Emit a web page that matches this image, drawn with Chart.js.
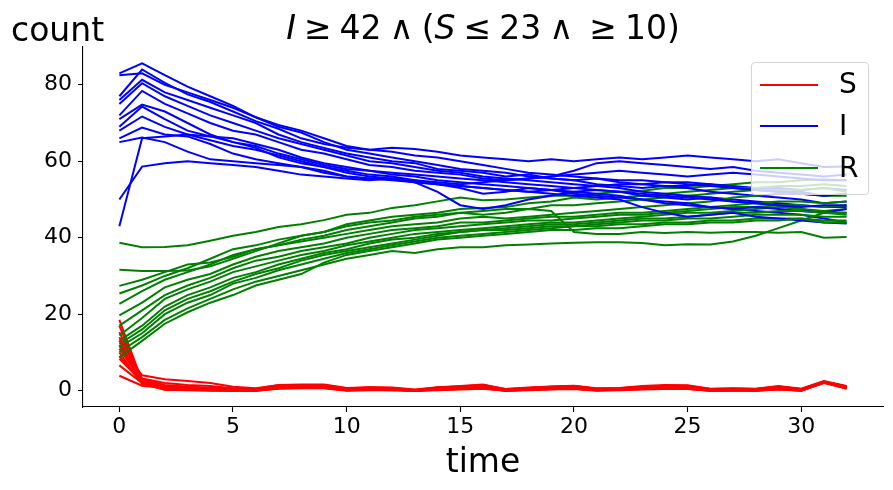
<!DOCTYPE html>
<html><head><meta charset="utf-8">
<script src="https://cdn.jsdelivr.net/npm/chart.js@4/dist/chart.umd.min.js"></script>
<style>
html,body{margin:0;padding:0;background:#fff;overflow:hidden;}
#wrap{position:relative;width:893px;height:490px;}
canvas{position:absolute;left:0;top:0;}
.txt{position:absolute;font-family:"DejaVu Sans";color:#000;white-space:pre;line-height:normal;}
#title{left:183px;width:600px;text-align:center;top:8px;font-size:33px;word-spacing:-2.5px;}
#ylab{left:11px;top:10px;font-size:33px;}
#legend{position:absolute;left:751px;top:62px;width:118px;height:133px;box-sizing:border-box;border:1px solid #d4d4d4;border-radius:4px;background:rgba(255,255,255,0.8);}
#legend .ln{position:absolute;left:8px;width:58px;height:2px;}
#legend .lb{position:absolute;left:87px;font-family:"DejaVu Sans";font-size:28px;line-height:normal;color:#000;}
</style></head>
<body>
<div id="wrap">
<canvas id="c" width="893" height="490"></canvas>
<div class="txt" id="title"><i>I</i> ≥ 42 ∧ (<i>S</i> ≤ 23 ∧  ≥ 10)</div>
<div class="txt" id="ylab">count</div>
<div id="legend"></div>
</div>
<script>
const time = [0,1,2,3,4,5,6,7,8,9,10,11,12,13,14,15,16,17,18,19,20,21,22,23,24,25,26,27,28,29,30,31,32];
const xTicks = [0,5,10,15,20,25,30];
const yTicks = [0,20,40,60,80];
const seriesNames = ['S','I','R'];
const seriesColors = ['red','blue','green'];

const susceptible = [
 [18.5,2.5,1.0,0.6,0.5,0.2,0.2,1.2,1.4,1.3,0.4,0.6,0.5,0.0,0.7,1.0,1.3,0.2,0.6,0.9,1.0,0.4,0.5,0.9,1.2,1.1,0.3,0.4,0.3,0.9,0.3,2.2,1.0],
 [17,2.2,0.3,0.2,0.1,0.0,0.0,0.6,0.8,0.7,0.1,0.2,0.1,0.0,0.2,0.4,0.6,0.0,0.2,0.4,0.5,0.1,0.2,0.4,0.5,0.5,0.0,0.1,0.0,0.4,0.0,2.0,0.6],
 [15.3,3.0,1.5,1.0,0.8,0.5,0.5,1.5,1.6,1.6,0.7,0.9,0.8,0.3,0.9,1.2,1.6,0.4,0.8,1.1,1.3,0.6,0.7,1.2,1.5,1.4,0.5,0.6,0.5,1.2,0.5,2.5,1.2],
 [13.1,2.0,0.5,0.4,0.3,0.1,0.1,0.9,1.1,1.0,0.2,0.4,0.3,0.0,0.4,0.7,0.9,0.1,0.4,0.7,0.8,0.2,0.3,0.7,0.9,0.8,0.2,0.2,0.2,0.7,0.2,2.3,0.8],
 [11.8,2.8,0.8,0.5,0.4,0.3,0.2,1.0,1.2,1.2,0.3,0.5,0.4,0.1,0.6,0.9,1.1,0.2,0.5,0.8,0.9,0.3,0.4,0.8,1.0,1.0,0.3,0.3,0.3,0.8,0.3,2.2,0.9],
 [10,1.8,0.2,0.1,0.0,0.0,0.0,0.5,0.6,0.6,0.0,0.1,0.1,0.0,0.1,0.3,0.5,0.0,0.1,0.3,0.4,0.0,0.1,0.3,0.4,0.4,0.0,0.0,0.0,0.3,0.0,2.1,0.5],
 [8.3,2.3,0.6,0.4,0.3,0.2,0.2,0.8,1.0,0.9,0.2,0.3,0.3,0.0,0.5,0.8,1.0,0.1,0.4,0.6,0.7,0.2,0.3,0.6,0.8,0.8,0.1,0.2,0.1,0.6,0.1,2.3,0.8],
 [6.6,2.0,0.4,0.3,0.2,0.1,0.1,0.7,0.9,0.8,0.1,0.3,0.2,0.0,0.3,0.6,0.8,0.0,0.3,0.5,0.6,0.1,0.2,0.5,0.7,0.6,0.1,0.1,0.1,0.5,0.1,2.2,0.7],
 [3.9,1.3,0.7,0.6,0.5,0.3,0.3,1.1,1.3,1.2,0.5,0.6,0.5,0.1,0.7,1.0,1.2,0.3,0.6,0.9,1.0,0.4,0.5,0.9,1.1,1.1,0.3,0.4,0.3,0.9,0.3,2.4,1.0],
 [12,4.0,3.0,2.5,2.0,1.0,0.6,1.4,1.5,1.4,0.5,0.8,0.7,0.1,0.8,1.1,1.4,0.3,0.7,1.0,1.2,0.5,0.6,1.0,1.3,1.3,0.4,0.5,0.4,1.0,0.4,2.4,1.1],
 [11,2.5,1.2,0.8,0.6,0.4,0.3,1.0,1.1,1.1,0.3,0.5,0.4,0.0,0.5,0.8,1.0,0.1,0.5,0.7,0.8,0.3,0.4,0.7,0.9,0.9,0.2,0.3,0.2,0.7,0.2,2.3,0.9],
 [9,2.1,0.3,0.2,0.1,0.0,0.0,0.6,0.7,0.7,0.1,0.2,0.2,0.0,0.2,0.5,0.7,0.0,0.2,0.4,0.5,0.1,0.2,0.4,0.6,0.5,0.0,0.1,0.0,0.4,0.0,2.1,0.6],
 [14,3.2,2.0,1.5,1.2,0.6,0.4,1.3,1.5,1.5,0.6,0.8,0.7,0.2,0.8,1.1,1.5,0.4,0.7,1.0,1.2,0.5,0.6,1.0,1.3,1.2,0.4,0.5,0.4,1.1,0.4,2.4,1.1]
];

const infected = [
 [83,85.6,82.5,79.5,77,74.5,71.5,69,67.5,65,63,62,61,60,59,58,57.5,57,56,55.5,55,55.5,54.5,54,53.5,53.5,54,53,52.5,52,52,51,51.5],
 [82.5,83,80,78,76,74,71.5,69.5,68,66,64,63,62.5,61.5,61,60,59,58,57,56.5,56,55.5,55,55,54.5,54.5,54,53.5,53,53,52.5,53,52.5],
 [77,84,80.5,77.5,75.5,73,70.5,68.5,66,64.5,63.5,63,63.5,63.2,62.5,61.5,61,60.5,60,60.5,60,60.5,61,60.5,61,61.5,61,60.5,60,60.5,59.5,58.5,58.6],
 [76,81.3,78,76,74,72,70,67,65,63.5,62,61,60,59.5,58,57.5,57,56,56.5,55.5,55,54,53.5,53,53.5,53,52,51.5,51,50.5,50,49,49.5],
 [75,80.4,77,74.5,72,70,68,66,64.5,63,61.5,60,59.5,58.5,57.5,57,56,55.5,55,54.5,54,53.5,53,52,51.5,51,50.5,50,49.5,49,48.5,48,48],
 [72,78.4,75,72.5,70,68,67,65,63,62,60.5,59,58.5,57.5,57,56.5,55.5,55,55.5,56,56.5,57,57.5,57,56.5,56,56.5,57,56.5,56,55.5,55,55],
 [71,74.8,73,70,67,65,64,62,60.5,59,58,57.5,57,56.5,56,55.5,55,54.5,54,53.5,53,52.5,52,51.5,51,50.5,50,49.5,49,48.5,47.5,46.5,46.5],
 [69,74.3,71,68,66.5,66,64.5,63,61,59.5,58.5,57.5,56.5,56,55,54.5,54,53.5,53,52.5,52,51.5,51,50,49.5,49,48,47.5,47,46.5,46,45,44],
 [68,71.7,69,67,65.5,64,63,61.5,60,58.5,57.5,56.5,56,55,54,53,51.5,52,53,52.5,51.5,51,50.5,50,49,48.5,48,47.5,48,47.5,47,46.5,47.5],
 [66,68.8,67,66.5,64.5,62,60.5,59.5,58.5,57.5,56,55.5,55,54.5,54,53.5,53,52.5,52,52.5,53,53.5,54,54,54.5,54,53.5,53,52.5,52,51.5,51,51.5],
 [65,66.2,65,62.5,60.5,60,59.5,59,58.5,57,56,55.5,55.5,54.5,52,48.5,47.5,48.5,50,51,52,52.5,52,51,50.5,50,50.5,49.5,49,48.5,48,48.5,48.5],
 [50,58.6,59.5,60,59.5,59,58.5,57.5,56.5,56,55.5,55,55.5,55,54.5,54,54.5,55,55.5,56,57.5,59.5,60,59.5,59,58.5,58,58.5,57.5,57,56.5,56,56.5],
 [43,66,66.5,67,66.5,65,63.5,61,59.5,58.5,57,56,55.5,54.5,54,53.5,53,52.5,52,51.5,51,50.5,50,48,46.5,45.5,46,46.5,45.5,45,44.5,44,43.7]
];

const recovered = [
 [38.7,37.5,37.6,38,39.2,40.5,41.5,42.8,43.5,44.6,46,46.5,47.8,48.5,49.5,50.5,49.8,50,50.5,51,51,51.5,52,52.3,53,53,53.5,54,54.5,54.5,55,55.2,55],
 [31.6,31.3,31.3,31.4,32.5,34.5,36.5,38.5,40.5,41.5,43.5,44.5,45.5,46,46.5,47.5,47.8,48,49,49.5,50.5,50,50.5,51,51.5,52,52.5,53,53,53.5,53.5,54,53.5],
 [27.4,29,31,33,33.5,35,37,38,39.5,40.5,42,43,44,45,45.5,46.5,47,47.5,47.5,48.5,48.5,49,49.5,50,50.5,51,51.5,52,52.5,52.5,52.5,53,52],
 [25.4,27.5,30,32,34.5,37,38,39.5,40.5,41.5,43,44,44.5,45.5,46,46.5,46,46.5,47.5,47,41.5,41,41,41.5,41.2,41.5,41.3,41.5,41.5,41.3,41.5,40,40.2],
 [22.7,26,29,31,33,35.5,37,38,39,40,41,42,43,43.5,44,45,45.5,45,45.5,46,46.5,47,47.5,48,48.5,49,49.5,50.5,51,51.5,51.5,51,51],
 [19.7,23,27,29,30.5,33,35,36.5,37.5,38.5,40,41,42,42.5,43,44,44,44.5,45,45.5,45.5,46,46.5,46.5,47,47.5,48,48.5,49,49.5,49.5,49,49.5],
 [17,21,25,27.5,29.5,32,34,35,36.5,37.5,38.5,40,41,42,42.5,43,43.5,44,44.5,44.5,45,45.5,46,46,46.5,47,47.5,48,48,48.5,48.5,48,48.5],
 [14.4,19,24,26.5,28.5,31,32.5,34,35.5,36.5,38,39,40,41,41.5,42,42.5,43,43.5,44,44,44.5,45,45.5,46,46.5,46.5,47,47.5,48,47.5,47,47.5],
 [13.1,17,22,25,27,29.5,31,33,34.5,36,37,38.5,39.5,40,41,41.5,42,42.5,43,43.5,43.5,44,44.5,45,45,45.5,46,46.5,46.5,47,47,46.5,46.5],
 [12.2,16,21,24,26,28.5,30.5,32,34,35.5,36.5,37.5,38.5,39.5,40.5,41.5,42,42,42.5,43,43,43.5,44,44.5,44.5,45,45,45.5,46,46,46,45.5,45.5],
 [11.4,15,20,23,25,28,29.5,31.5,33,34.5,36,37,38,39,40,40.5,41,41.5,42,42.5,43,43,43.5,43.5,44,44,44.5,44.5,45,45,45,44.5,44.5],
 [10.1,14,18.5,21.5,24,26.5,28.5,30,31.5,33,34.5,35.5,36.5,36,37,37.5,37.5,38,38.2,38.5,38.7,38.8,38.8,38.6,38,38.3,38.2,39,40.5,42.5,44.5,46.5,46],
 [8.7,13,17.5,20.5,23,25,27.5,29,30.5,33.5,35.5,36.5,37.5,38.5,39.5,40,40.5,41,41.5,42,42,42.5,42.5,43,43.5,43.5,44,44,44.5,44.5,45,44,44]
];

// legend (HTML overlay, like matplotlib's framed legend)
const legendEl = document.getElementById('legend');
seriesNames.forEach((name, i) => {
  const ln = document.createElement('div');
  ln.className = 'ln';
  ln.style.top = (20.5 + i * 41.7) + 'px';
  ln.style.background = seriesColors[i];
  legendEl.appendChild(ln);
  const lb = document.createElement('div');
  lb.className = 'lb';
  lb.style.top = (4.3 + i * 41.7) + 'px';
  lb.textContent = name;
  legendEl.appendChild(lb);
});

function mk(vals, color, idx) {
  return {
    data: vals.map((v, i) => ({x: time[i], y: v})),
    borderColor: color,
    borderWidth: 2,
    pointRadius: 0,
    pointHoverRadius: 0,
    fill: false,
    tension: 0,
    order: -idx
  };
}
const datasets = [];
let idx = 0;
const runs = [susceptible, infected, recovered];
for (let k = 0; k < infected.length; k++) {
  for (let s = 0; s < 3; s++) {
    datasets.push(mk(runs[s][k], seriesColors[s], idx++));
  }
}

const tickFont = {family: 'DejaVu Sans', size: 22};
new Chart(document.getElementById('c'), {
  type: 'line',
  data: {datasets},
  options: {
    responsive: false,
    animation: false,
    devicePixelRatio: 1,
    events: [],
    layout: {padding: {left: 0, top: 47, right: 10, bottom: 0}},
    plugins: {legend: {display: false}, tooltip: {enabled: false}, title: {display: false}},
    scales: {
      x: {
        type: 'linear',
        min: -1.6, max: 33.6,
        afterBuildTicks: (sc) => { sc.ticks = xTicks.map(v => ({value: v})); },
        afterFit: (sc) => { sc.height = 83; },
        grid: {drawOnChartArea: false, drawTicks: true, tickLength: 5, tickColor: '#000', tickWidth: 1.1},
        border: {display: true, color: '#000', width: 1.1},
        ticks: {font: tickFont, color: '#000', padding: 2, maxRotation: 0, autoSkip: false},
        title: {display: true, text: 'time', font: {family: 'DejaVu Sans', size: 33}, color: '#000', padding: {top: 0, bottom: 7}}
      },
      y: {
        type: 'linear',
        min: -4.28, max: 89.88,
        afterBuildTicks: (sc) => { sc.ticks = yTicks.map(v => ({value: v})); },
        afterFit: (sc) => { sc.width = 83; },
        grid: {drawOnChartArea: false, drawTicks: true, tickLength: 5, tickColor: '#000', tickWidth: 1.1},
        border: {display: true, color: '#000', width: 1.1},
        ticks: {font: tickFont, color: '#000', padding: 6, autoSkip: false}
      }
    }
  }
});
</script>
</body></html>
